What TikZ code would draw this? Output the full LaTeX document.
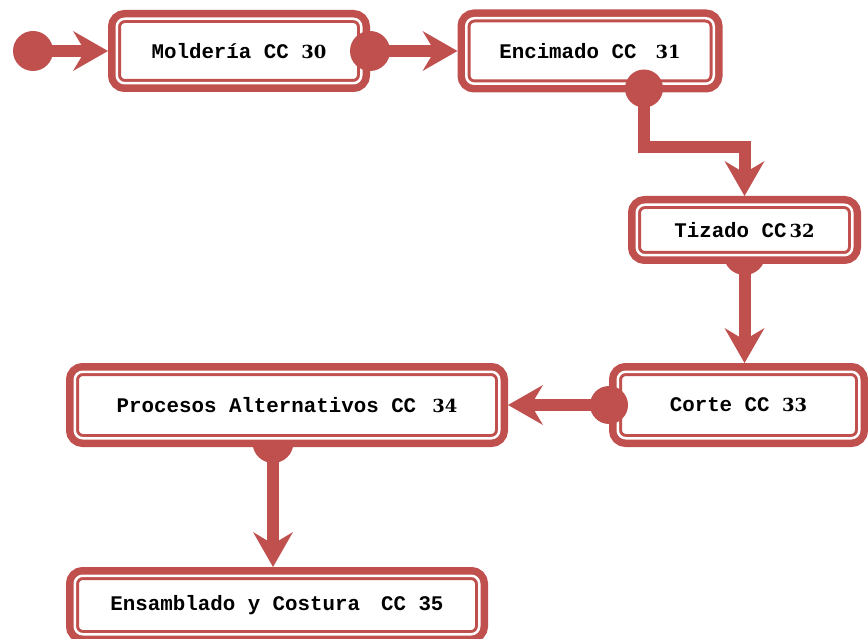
\documentclass[tikz,border=0pt]{standalone}
\usepackage{fontspec}
\setmonofont{Liberation Mono}
\newfontfamily\numfont{DejaVu Serif}
\usetikzlibrary{arrows.meta}
\usetikzlibrary{backgrounds}
\definecolor{boxred}{HTML}{C0504D}
\newcommand{\ccnum}[1]{{\numfont\bfseries\fontsize{18pt}{22pt}\selectfont #1}}
\tikzset{
    proc/.style={rectangle, rounded corners=8pt, inner sep=0pt, outer sep=8.75pt,
        fill=white, draw=boxred, line width=8.5pt,
        preaction={draw=boxred, line width=17.5pt},
        postaction={draw=white, line width=2.5pt},
        font=\ttfamily\bfseries\fontsize{20.8pt}{24pt}\selectfont},
    flow/.style={draw=boxred, line width=12pt, line join=miter,
        -{Stealth[length=35pt, width=40pt, inset=12pt, line width=0pt]}},
    flowdot/.style={fill=boxred}
}
\begin{document}
\begin{tikzpicture}[x=1pt, y=-1pt]
            \useasboundingbox (0,0) rectangle (868,639);
            \node[proc, minimum width=244.5pt, minimum height=64.5pt] (mol) at (239,51) {Moldería CC \ccnum{30}};
            \node[proc, minimum width=247.5pt, minimum height=65.5pt] (enc) at (590,51) {Encimado CC\hspace{19pt}\ccnum{31}};
            \node[proc, minimum width=215.5pt, minimum height=50.5pt] (tiz) at (744.5,230) {Tizado CC\hspace{3pt}\ccnum{32}};
            \node[proc, minimum width=241.5pt, minimum height=66.5pt] (cor) at (738.5,405) {Corte CC \ccnum{33}};
            \node[proc, minimum width=424.5pt, minimum height=66.5pt] (pro) at (287,405) {Procesos Alternativos CC\hspace{16pt}\ccnum{34}};
            \node[proc, minimum width=404.5pt, minimum height=58.5pt] (ens) at (277,605) {Ensamblado y Costura\hspace{21pt}CC 35};
            \coordinate (start) at (33,51);

            \fill[flowdot] (start) circle[radius=20pt];
            \draw[flow] (start) -- (mol);
            \fill[flowdot] (mol.east) circle[radius=20pt];
            \draw[flow] (mol) -- (enc);
            \fill[flowdot] ([xshift=54pt, yshift=4pt]enc.south) circle[radius=19pt];
            \draw[flow] ([xshift=54pt, yshift=4pt]enc.south) -- ++(0,59) -| (tiz.north);
            \fill[flowdot] (cor.west) circle[radius=19pt];
            \draw[flow] (cor) -- (pro);

            \begin{scope}[on background layer]
                \fill[flowdot] ([yshift=10pt]tiz.south) circle[radius=21pt];
                \draw[flow] (tiz.south) -- (tiz.south |- cor.north);
                \fill[flowdot] ([xshift=-14pt, yshift=4.5pt]pro.south) circle[radius=20.5pt];
                \draw[flow] ([xshift=-14pt]pro.south) -- ([xshift=-14pt]pro.south |- ens.north);
            \end{scope}
        \end{tikzpicture}
\end{document}
